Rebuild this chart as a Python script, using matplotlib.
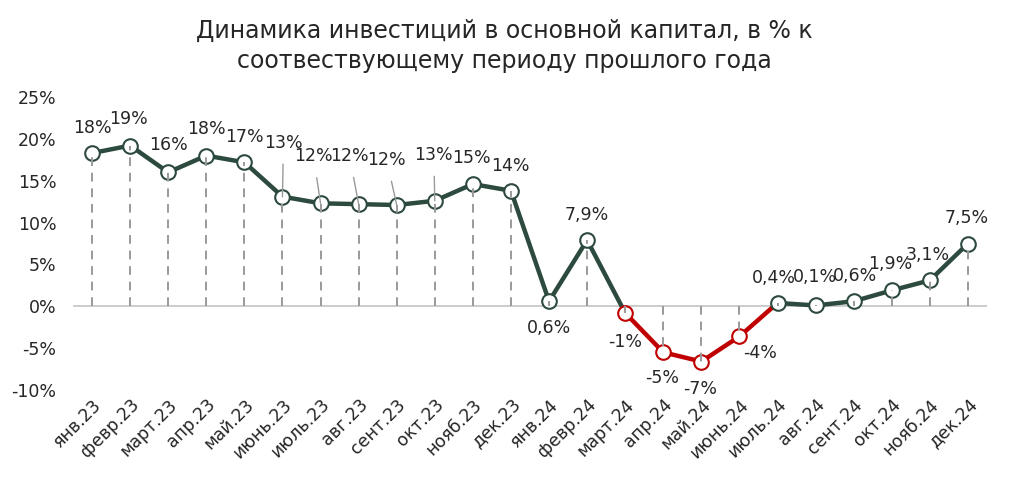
import matplotlib
matplotlib.use("Agg")
import matplotlib.pyplot as plt

plt.rcParams['font.family'] = ['DejaVu Sans']

months = ["янв.23", "февр.23", "март.23", "апр.23", "май.23", "июнь.23", "июль.23",
          "авг.23", "сент.23", "окт.23", "нояб.23", "дек.23", "янв.24", "февр.24",
          "март.24", "апр.24", "май.24", "июнь.24", "июль.24", "авг.24", "сент.24",
          "окт.24", "нояб.24", "дек.24"]
values = [18.3, 19.2, 16.0, 18.0, 17.2, 13.1, 12.3, 12.2, 12.1, 12.6, 14.6, 13.8,
          0.6, 7.9, -0.8, -5.5, -6.6, -3.6, 0.4, 0.1, 0.6, 1.9, 3.1, 7.5]
labels = ["18%", "19%", "16%", "18%", "17%", "13%", "12%", "12%", "12%", "13%", "15%",
          "14%", "0,6%", "7,9%", "-1%", "-5%", "-7%", "-4%", "0,4%", "0,1%", "0,6%",
          "1,9%", "3,1%", "7,5%"]
yticks = [-10, -5, 0, 5, 10, 15, 20, 25]

GREEN = "#2c4a3d"
RED = "#c00000"
GREY = "#9a9a9a"
TXT = "#262626"

# label offsets in pixels (dx, dy) relative to the point
offsets = [(0, 25), (-2, 27), (0, 27), (0, 27), (0, 25), (1, 54), (-7, 47), (-9, 48),
           (-10, 45), (-1, 46), (-1, 26), (-1, 25), (0, -27), (0, 25), (0, -29),
           (-1, -26), (-1, -27), (21, -17), (-4, 25), (-1, 28), (1, 25), (-2, 26),
           (-2, 25), (-1, 26)]
leaders = [5, 6, 7, 8, 9]

fig = plt.figure(figsize=(10.09, 4.86), dpi=100)
ax = fig.add_axes([73 / 1009, 1 - 390 / 486, (987 - 73) / 1009, (390 - 97) / 486])
x = list(range(len(values)))
ax.set_xlim(-0.5, len(values) - 0.5)
ax.set_ylim(-10, 25)

ax.axhline(0, color="#c8c8c8", lw=1.3, zorder=1)

# line segments
ax.plot(x[:15], values[:15], color=GREEN, lw=3.2, zorder=2, solid_capstyle='round')
ax.plot(x[14:19], values[14:19], color=RED, lw=3.2, zorder=2, solid_capstyle='round')
ax.plot(x[18:], values[18:], color=GREEN, lw=3.2, zorder=2, solid_capstyle='round')

for i, v in enumerate(values):
    ec = RED if 14 <= i <= 17 else GREEN
    ax.plot([i], [v], marker='o', ms=10.5, mfc='white', mec=ec, mew=1.5, zorder=3)
    ax.plot([i, i], [0, v], color=GREY, lw=1.4, ls=(0, (4.5, 3.5)), zorder=4)

for i, (v, lab) in enumerate(zip(values, labels)):
    dx, dy = offsets[i]
    kw = {}
    if i in leaders:
        kw['arrowprops'] = dict(arrowstyle='-', color=GREY, lw=1.0,
                                shrinkA=7, shrinkB=0)
    ax.annotate(lab, xy=(i, v), xytext=(dx * 0.72, dy * 0.72),
                textcoords='offset points', ha='center', va='center',
                fontsize=12.5, color=TXT, zorder=5, **kw)

ax.set_yticks(yticks)
ax.set_yticklabels([f"{t}%" for t in yticks], fontsize=12.5, color=TXT)
ax.set_xticks(x)
ax.set_xticklabels(months, rotation=45, ha='right', va='top',
                   rotation_mode='anchor', fontsize=12.5, color=TXT)
ax.tick_params(axis='both', length=0)
ax.tick_params(axis='y', pad=12)
ax.tick_params(axis='x', pad=4)
for s in ax.spines.values():
    s.set_visible(False)

fig.text(0.5, 1 - 46 / 486,
         "Динамика инвестиций в основной капитал, в % к\nсоотвествующему периоду прошлого года",
         ha='center', va='center', fontsize=17, color=TXT, linespacing=1.3)

fig.savefig("out.png", dpi=100)
